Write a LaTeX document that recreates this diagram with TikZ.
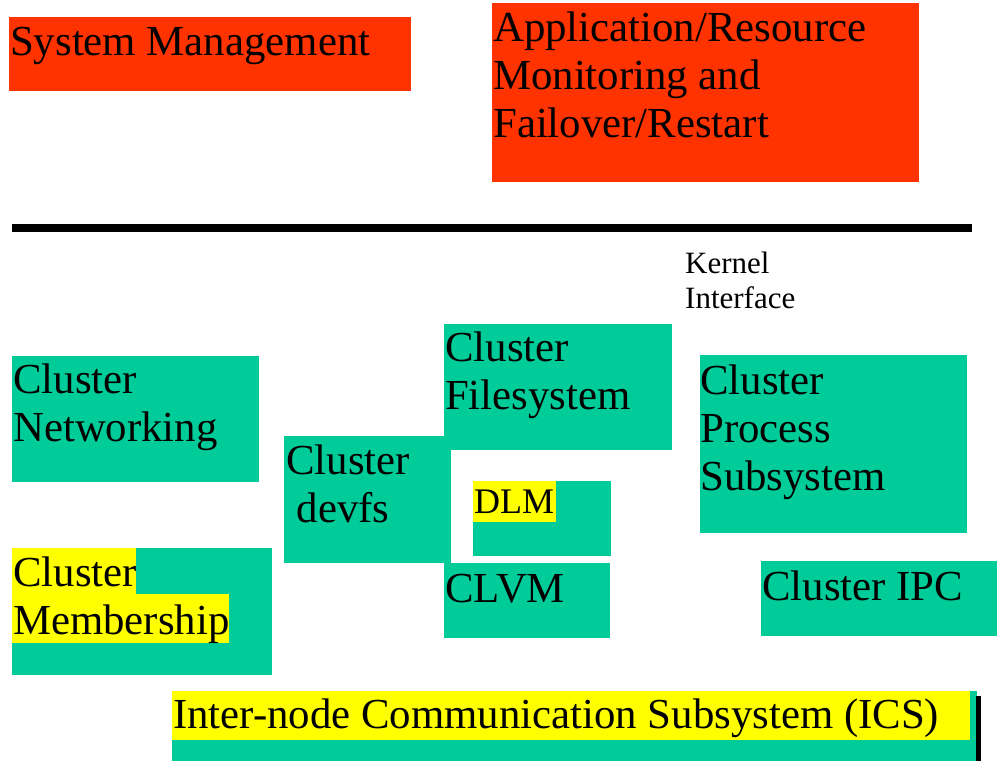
\documentclass[tikz,border=0pt]{standalone}
\usepackage{fontspec}
\setmainfont{Liberation Serif}
\definecolor{mgmtred}{HTML}{FF3300}
\definecolor{clgreen}{HTML}{00CC99}
\definecolor{hlyellow}{HTML}{FFFF00}

\begin{document}
\begin{tikzpicture}[x=1pt, y=-1pt,
  lbl/.style={inner sep=0pt, anchor=base west, align=left,
    font=\fontsize{42.8}{48}\selectfont},
  small/.style={lbl, font=\fontsize{31}{35}\selectfont}]
  \useasboundingbox (0,0) rectangle (997,761);
  % user space (nodes sit on their last baseline)
  \fill[mgmtred] (9,17) rectangle (411,91);
  \node[lbl] (sysmgmt) at (10,55) {System Management};
  \fill[mgmtred] (492,3) rectangle (919,182);
  \node[lbl] (appmon) at (493,137) {Application/Resource\\Monitoring and\\Failover/Restart};
  % kernel boundary
  \fill[black] (12,224) rectangle (972,232);
  \node[small] (kif) at (685,308) {Kernel\\Interface};
  % cluster services
  \fill[clgreen] (12,356) rectangle (259,482);
  \node[lbl] (net) at (13,441) {Cluster\\Networking};
  \fill[clgreen] (444,324) rectangle (672,450);
  \node[lbl] (fs) at (445,409) {Cluster\\Filesystem};
  \fill[clgreen] (700,355) rectangle (967,533);
  \node[lbl] (proc) at (700,490) {Cluster\\Process\\Subsystem};
  \fill[clgreen] (284,436) rectangle (451,563);
  \node[lbl] (devfs) at (286,522) {Cluster\\\ devfs};
  \fill[clgreen] (473,481) rectangle (611,556);
  \fill[hlyellow] (473,481) rectangle (556,522);
  \node[lbl, font=\fontsize{36}{40}\selectfont] (dlm) at (474,513) {DLM};
  \fill[clgreen] (444,563) rectangle (610,638);
  \node[lbl] (clvm) at (445,602) {CLVM};
  \fill[clgreen] (761,561) rectangle (997,636);
  \node[lbl] (ipc) at (762,600) {Cluster IPC};
  \fill[clgreen] (12,548) rectangle (272,675);
  \fill[hlyellow] (12,548) rectangle (136,594);
  \fill[hlyellow] (12,594) rectangle (229,643);
  \node[lbl] (memb) at (13,634) {Cluster\\Membership};
  % ICS
  \fill[clgreen] (172,691) rectangle (977,761);
  \fill[hlyellow] (172,691) rectangle (970,740);
  \fill[black] (976,696) rectangle (981,761);
  \node[lbl] (ics) at (173,728) {Inter-node Communication Subsystem (ICS)};
\end{tikzpicture}
\end{document}
